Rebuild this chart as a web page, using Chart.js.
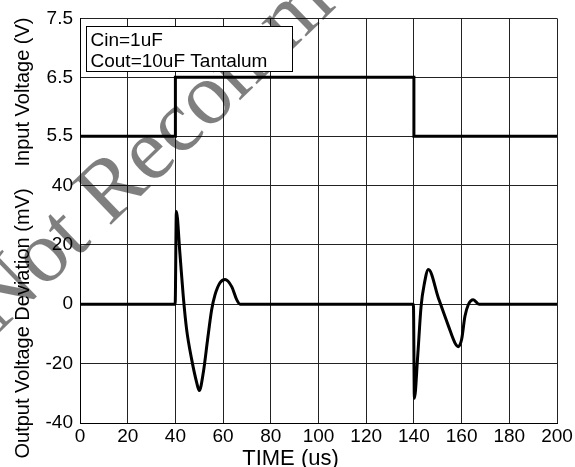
<!DOCTYPE html>
<html>
<head>
<meta charset="utf-8">
<script src="https://cdn.jsdelivr.net/npm/chart.js@4.4.1/dist/chart.umd.min.js"></script>
<style>
  html, body { margin: 0; padding: 0; background: #fff; }
  #wrap { width: 575px; height: 467px; }
</style>
</head>
<body>
<div id="wrap"><canvas id="loadChart"></canvas></div>
<script>
// Data
const inputTime = [0, 40, 40, 140, 140, 200];
const inputVolts = [5.5, 5.5, 6.5, 6.5, 5.5, 5.5];
const inputTicks = [5.5, 6.5, 7.5];

const outputTime = [0, 39.9, 40.4, 41.9, 43.3, 44.7, 46.8, 48.9, 50, 51.7, 53.5, 55.2, 56.6, 58.7, 60.8, 63.6, 65.7, 67.1,
  139.8, 140.2, 141.6, 143, 144.4, 146.1, 150.3, 154.5, 157.3, 158.6, 160, 161.4, 162.8, 164.9, 167.3, 200];
const outputMv = [0, 0, 31.2, 17, 2.6, -8.5, -18.5, -26.3, -29.1, -23, -11.9, -1.9, 3.1, 7.2, 8.3, 5.9, 1.5, 0,
  0, -31.7, -17.4, -0.8, 7, 11.7, 2, -7.4, -13.2, -14.3, -11.9, -4.1, -0.2, 1.5, 0, 0];
const outputTicks = [-40, -20, 0, 20, 40];

const noteLines = ['Cin=1uF', 'Cout=10uF Tantalum'];
const watermark = 'Not Recommended';

const SANS = '"Liberation Sans", Arial, sans-serif';
const tickFont = { family: SANS, size: 19 };

function toPoints(xs, ys) {
  return xs.map((x, i) => ({ x: x, y: ys[i] }));
}

// watermark, note box and axis titles
const overlay = {
  id: 'overlay',
  beforeDatasetsDraw(chart) {
    const ctx = chart.ctx;
    ctx.save();
    ctx.translate(-2, 334);
    ctx.rotate(-44 * Math.PI / 180);
    ctx.font = '88px "Liberation Serif", "Times New Roman", serif';
    ctx.fillStyle = 'rgba(0,0,0,0.5)';
    ctx.textBaseline = 'alphabetic';
    ctx.textAlign = 'left';
    ctx.fillText(watermark, 0, 0);
    ctx.restore();
  },
  afterDraw(chart) {
    const ctx = chart.ctx;
    ctx.save();
    // note box
    ctx.fillStyle = '#fff';
    ctx.fillRect(86.5, 26.5, 206, 45);
    ctx.strokeStyle = '#000';
    ctx.lineWidth = 1;
    ctx.strokeRect(86.5, 26.5, 206, 45);
    ctx.fillStyle = '#000';
    ctx.font = '19px ' + SANS;
    ctx.textAlign = 'left';
    ctx.textBaseline = 'alphabetic';
    ctx.fillText(noteLines[0], 90.5, 46);
    ctx.fillText(noteLines[1], 90.5, 66.5);

    // y titles
    ctx.font = '20px ' + SANS;
    ctx.textAlign = 'center';
    ctx.save();
    ctx.translate(29, 92);
    ctx.rotate(-Math.PI / 2);
    ctx.fillText('Input Voltage (V)', 0, 0);
    ctx.restore();
    ctx.save();
    ctx.translate(29, 323.5);
    ctx.rotate(-Math.PI / 2);
    ctx.fillText('Output Voltage Deviation (mV)', 0, 0);
    ctx.restore();

    // x title
    ctx.font = '22px ' + SANS;
    ctx.fillText('TIME (us)', 290.5, 465);
    ctx.restore();
  }
};

const gridStyle = { color: '#222', lineWidth: 1, drawTicks: false };

new Chart(document.getElementById('loadChart').getContext('2d'), {
  type: 'line',
  data: {
    datasets: [
      {
        label: 'Output',
        data: toPoints(outputTime, outputMv),
        yAxisID: 'yOut',
        borderColor: '#000',
        borderWidth: 3,
        pointRadius: 0,
        fill: false,
        cubicInterpolationMode: 'monotone'
      },
      {
        label: 'Input',
        data: toPoints(inputTime, inputVolts),
        yAxisID: 'yIn',
        borderColor: '#000',
        borderWidth: 3,
        pointRadius: 0,
        fill: false,
        tension: 0
      }
    ]
  },
  options: {
    responsive: true,
    maintainAspectRatio: false,
    animation: false,
    layout: { padding: { top: 14, right: 18, left: 0, bottom: 0 } },
    plugins: { legend: { display: false }, tooltip: { enabled: false } },
    scales: {
      x: {
        type: 'linear',
        min: 0,
        max: 200,
        ticks: { stepSize: 20, padding: 2, color: '#000', font: tickFont, maxRotation: 0 },
        grid: gridStyle,
        border: { color: '#000' },
        afterFit(s) { s.height = 44; }
      },
      yOut: {
        type: 'linear',
        position: 'left',
        stack: 'panels',
        stackWeight: 240.3,
        min: -40,
        max: 40,
        afterBuildTicks(s) { s.ticks = outputTicks.map(v => ({ value: v })); },
        ticks: { padding: 7, color: '#000', font: tickFont },
        grid: gridStyle,
        border: { color: '#000' },
        afterFit(s) { s.width = 80; }
      },
      yIn: {
        type: 'linear',
        position: 'left',
        stack: 'panels',
        stackWeight: 168.7,
        min: 4.665,
        max: 7.5,
        afterBuildTicks(s) { s.ticks = inputTicks.map(v => ({ value: v })); },
        ticks: { padding: 7, color: '#000', font: tickFont },
        grid: gridStyle,
        border: { color: '#000' },
        afterFit(s) { s.width = 80; }
      }
    }
  },
  plugins: [overlay]
});
</script>
</body>
</html>
